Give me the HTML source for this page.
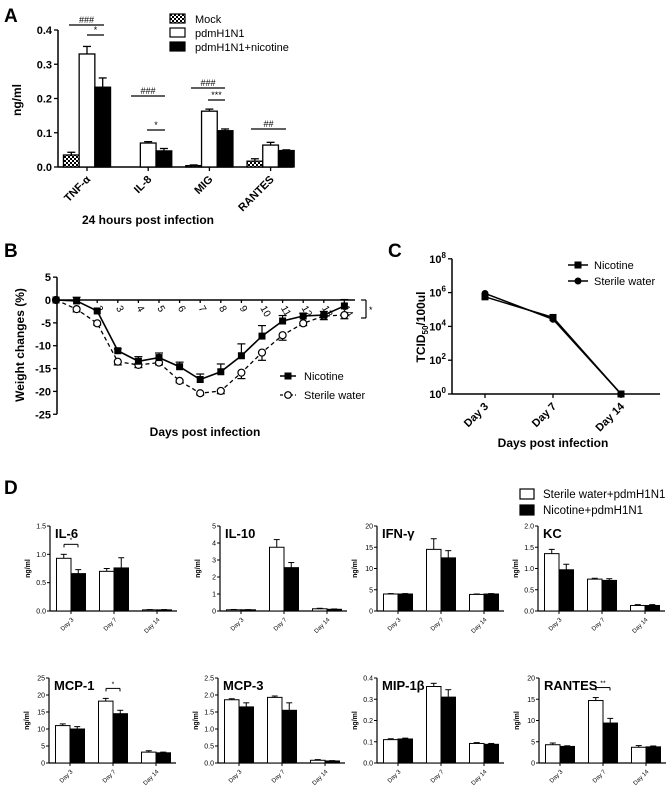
<!DOCTYPE html>
<html><head><meta charset="utf-8"><style>
html,body{margin:0;padding:0;background:#fff;}
svg{display:block;font-family:"Liberation Sans",Arial,sans-serif;}
</style></head><body>
<svg id="fig" width="672" height="788" viewBox="0 0 672 788" xmlns="http://www.w3.org/2000/svg">
<defs>
<pattern id="chk" width="4" height="4" patternUnits="userSpaceOnUse">
<rect width="4" height="4" fill="#fff"/><rect width="2" height="2" fill="#000"/><rect x="2" y="2" width="2" height="2" fill="#000"/>
</pattern>
</defs>
<g id="root"></g>
</svg>
<script>
// ---------- Panel A data ----------
const aCats = ["TNF-α","IL-8","MIG","RANTES"];
const aMock = [0.035,0,0.004,0.017];
const aMockErr = [0.008,0,0.002,0.007];
const aPdm = [0.33,0.07,0.163,0.064];
const aPdmErr = [0.022,0.004,0.006,0.008];
const aNic = [0.233,0.047,0.106,0.048];
const aNicErr = [0.027,0.007,0.005,0.002];
const aTicks = [0,0.1,0.2,0.3,0.4];
// ---------- Panel B data ----------
const bDays = [0,1,2,3,4,5,6,7,8,9,10,11,12,13,14];
const bNic = [0,-0.2,-2.4,-11.1,-13.4,-12.6,-14.6,-17.4,-15.7,-12.2,-7.9,-4.6,-3.5,-3.3,-1.3];
const bNicErr = [0,0.8,0.3,0.4,1,1,1,1.2,1.7,2.6,2.3,1.2,0.6,0.8,1.4];
const bSter = [0,-2,-5.1,-13.5,-14.2,-13.7,-17.7,-20.4,-19.9,-15.9,-11.5,-7.7,-5.1,-3.5,-3.3];
const bSterErr = [0,0.6,0.4,0.7,0.6,0.5,0.4,0.4,0.6,1.3,1.7,1.1,0.5,0.8,0.8];
const bTicks = [5,0,-5,-10,-15,-20,-25];
// ---------- Panel C data ----------
const cCats = ["Day 3","Day 7","Day 14"];
const cNic = [5.75,4.53,0];
const cSter = [5.95,4.42,0];
const cTicks = [0,2,4,6,8];
// ---------- Panel D data ----------
const dNames = ["IL-6","IL-10","IFN-γ","KC","MCP-1","MCP-3","MIP-1β","RANTES"];
const dMax = [1.5,5,20,2.0,25,2.5,0.4,20];
const dStep = [0.5,1,5,0.5,5,0.5,0.1,5];
const dTickDec = [1,0,0,1,0,1,1,0];
const dWater = [[0.93,0.70,0.02],[0.07,3.75,0.13],[4.0,14.5,3.9],[1.35,0.75,0.13],[11,18.2,3.2],[1.86,1.93,0.08],[0.11,0.36,0.092],[4.3,14.7,3.7]];
const dWaterErr = [[0.07,0.05,0.005],[0.02,0.45,0.03],[0.1,2.5,0.1],[0.1,0.02,0.02],[0.5,0.8,0.4],[0.03,0.04,0.02],[0.004,0.015,0.004],[0.4,0.7,0.4]];
const dNicD = [[0.66,0.76,0.02],[0.07,2.55,0.1],[4.0,12.5,4.0],[0.97,0.72,0.13],[10,14.5,3.0],[1.65,1.55,0.06],[0.113,0.31,0.088],[3.9,9.4,3.8]];
const dNicErr = [[0.07,0.18,0.005],[0.01,0.3,0.02],[0.1,1.7,0.1],[0.13,0.04,0.02],[0.7,1.0,0.2],[0.12,0.22,0.01],[0.004,0.035,0.004],[0.15,1.1,0.2]];
const dSig = [[0,"*"],null,null,null,[1,"*"],null,null,[1,"**"]];
const dCats = ["Day 3","Day 7","Day 14"];

const NS="http://www.w3.org/2000/svg";
const root=document.getElementById('root');
function el(tag,attrs,parent,text){const e=document.createElementNS(NS,tag);for(const k in attrs)e.setAttribute(k,attrs[k]);if(text!==undefined)e.textContent=text;(parent||root).appendChild(e);return e;}
function line(x1,y1,x2,y2,p,w,dash){const l=el('line',{x1,y1,x2,y2,stroke:'#000','stroke-width':w||1.3},p);if(dash)l.setAttribute('stroke-dasharray',dash);return l;}
function txt(x,y,s,size,p,opts){opts=opts||{};const t=el('text',{x,y,'font-size':size,'font-weight':opts.bold?'bold':'normal','text-anchor':opts.anchor||'start'},p,s);if(opts.rot!==undefined)t.setAttribute('transform','rotate('+opts.rot+' '+x+' '+y+')');return t;}
function grp(name){const g=el('g',{});return g;}

// ================= Panel A =================
(function(){
const g=grp('panel-a');
const x0=58,y0=167,yTop=30,xEnd=293;
const ys=v=>y0-(v/0.4)*(y0-yTop);
const gc=i=>87+i*61.2, bw=15.7;
let t=txt(4,22,'A',19,g,{bold:true});
line(x0,yTop,x0,y0,g,1.5);line(x0,y0,xEnd,y0,g,1.5);
aTicks.forEach(v=>{line(x0-4,ys(v),x0,ys(v),g);const tl=txt(x0-6,ys(v)+4,v.toFixed(1),11,g,{bold:true,anchor:'end'});});
t=txt(21,100,'ng/ml',12,g,{bold:true,anchor:'middle',rot:-90});
const series=[[aMock,aMockErr,'url(#chk)',-1],[aPdm,aPdmErr,'#fff',0],[aNic,aNicErr,'#000',1]];
aCats.forEach((c,i)=>{
 series.forEach(([vals,errs,fill,off],si)=>{
  const v=vals[i]; if(v<=0) return;
  const x=gc(i)+off*bw-bw/2;
  line(x+bw/2,ys(v),x+bw/2,ys(v+errs[i]),g,1.3);line(x+bw/2-4,ys(v+errs[i]),x+bw/2+4,ys(v+errs[i]),g,1.3);
  const r=el('rect',{x,y:ys(v),width:bw,height:y0-ys(v),fill,stroke:'#000','stroke-width':1.3},g);
  
  
 });
 line(gc(i),y0,gc(i),y0+4,g);
 const tl=txt(gc(i)+4,y0+13,c,11,g,{bold:true,anchor:'end',rot:-45});
 
});
const sig=[[69,104,25,'###'],[87,104,35,'*'],[131,165,96,'###'],[147,165,130,'*'],[191,225,88,'###'],[208,225,100,'***'],[251,286,129,'##']];
sig.forEach(([a,b,y,s])=>{line(a,y,b,y,g,1.2);const st=txt((a+b)/2,y-2,s,9,g,{anchor:'middle'});});
[['url(#chk)','Mock',14],['#fff','pdmH1N1',28],['#000','pdmH1N1+nicotine',42]].forEach(([f,s,y])=>{
 const r=el('rect',{x:170,y:y,width:15,height:9,fill:f,stroke:'#000','stroke-width':1.2},g);
 const lt=txt(195,y+9,s,11,g);
});
t=txt(148,224,'24 hours post infection',12,g,{bold:true,anchor:'middle'});
})();

// ================= Panel B =================
(function(){
const g=grp('panel-b');
const x0=57,dx=20.6,ys=v=>300-v*4.57;
const xs=d=>56+d*dx;
let t=txt(4,257,'B',19,g,{bold:true});
line(x0,ys(5),x0,ys(-25),g,1.5);line(x0,ys(0),355,ys(0),g,1.5);
bTicks.forEach(v=>{line(x0-4,ys(v),x0,ys(v),g);const tl=txt(x0-6,ys(v)+4,String(v),11,g,{bold:true,anchor:'end'});});
bDays.forEach(d=>{if(d<2)return;line(xs(d),ys(0),xs(d),ys(0)+3,g);const tl=txt(xs(d)-2,ys(0)+8,String(d),10,g,{rot:60});});
t=txt(24,345,'Weight changes (%)',12,g,{bold:true,anchor:'middle',rot:-90});
t=txt(205,436,'Days post infection',12,g,{bold:true,anchor:'middle'});
let pts=bDays.map((d,i)=>xs(d)+','+ys(bSter[i])).join(' ');
let pl=el('polyline',{points:pts,fill:'none',stroke:'#000','stroke-width':1.3,'stroke-dasharray':'4,3'},g);
bDays.forEach((d,i)=>{const y=ys(bSter[i]),ye=ys(bSter[i]-bSterErr[i]);line(xs(d),y,xs(d),ye,g,1.2);line(xs(d)-4,ye,xs(d)+4,ye,g,1.2);
 const c=el('circle',{cx:xs(d),cy:y,r:3.5,fill:d===0?'#000':'#fff',stroke:'#000','stroke-width':1.2},g);});
pts=bDays.map((d,i)=>xs(d)+','+ys(bNic[i])).join(' ');
pl=el('polyline',{points:pts,fill:'none',stroke:'#000','stroke-width':1.6},g);
bDays.forEach((d,i)=>{const y=ys(bNic[i]),ye=ys(bNic[i]+bNicErr[i]);line(xs(d),y,xs(d),ye,g,1.2);line(xs(d)-4,ye,xs(d)+4,ye,g,1.2);
 const r=el('rect',{x:xs(d)-3.5,y:y-3.5,width:7,height:7,fill:'#000'},g);});
line(361,300,366,300,g,1.2);line(366,300,366,318,g,1.2);line(361,318,366,318,g,1.2);txt(369,313,'*',9,g);
line(280,376,296,376,g,1.5);el('rect',{x:284.5,y:372.5,width:7,height:7,fill:'#000'},g);
let lt=txt(304,380,'Nicotine',11,g);
line(280,395,296,395,g,1.3,'3,2');el('circle',{cx:288,cy:395,r:3.3,fill:'#fff',stroke:'#000','stroke-width':1.2},g);
lt=txt(304,399,'Sterile water',11,g);
})();

// ================= Panel C =================
(function(){
const g=grp('panel-c');
const x0=452,y0=394,per=16.9,ys=v=>y0-v*per;
const xs=i=>[485,553,621][i];
let t=txt(388,257,'C',19,g,{bold:true});
line(x0,ys(8),x0,y0,g,1.5);line(x0,y0,660,y0,g,1.5);
cTicks.forEach(v=>{line(x0-4,ys(v),x0,ys(v),g);const tt=el('text',{x:x0-6,y:ys(v)+4,'font-size':11,'font-weight':'bold','text-anchor':'end'},g);
 tt.appendChild(document.createTextNode('10'));el('tspan',{dy:-5,'font-size':8},tt,String(v));});
cCats.forEach((c,i)=>{line(xs(i),y0,xs(i),y0+4,g);const tl=txt(xs(i)+4,y0+13,c,11,g,{bold:true,anchor:'end',rot:-45});});
const tt=el('text',{x:425,y:327,'font-size':12,'font-weight':'bold','text-anchor':'middle',transform:'rotate(-90 425 327)'},g);

tt.appendChild(document.createTextNode('TCID'));el('tspan',{dy:3,'font-size':8},tt,'50');el('tspan',{dy:-3},tt,'/100ul');
t=txt(553,447,'Days post infection',12,g,{bold:true,anchor:'middle'});
let pl=el('polyline',{points:cCats.map((c,i)=>xs(i)+','+ys(cSter[i])).join(' '),fill:'none',stroke:'#000','stroke-width':1.5},g);
pl=el('polyline',{points:cCats.map((c,i)=>xs(i)+','+ys(cNic[i])).join(' '),fill:'none',stroke:'#000','stroke-width':1.5},g);
cCats.forEach((c,i)=>{const ci=el('circle',{cx:xs(i),cy:ys(cSter[i]),r:3.5,fill:'#000'},g);
 const r=el('rect',{x:xs(i)-3.5,y:ys(cNic[i])-3.5,width:7,height:7,fill:'#000'},g);});
line(568,265,588,265,g,1.5);el('rect',{x:574.5,y:261.5,width:7,height:7,fill:'#000'},g);
let lt=txt(594,269,'Nicotine',11,g);
line(568,281,588,281,g,1.5);el('circle',{cx:578,cy:281,r:3.5,fill:'#000'},g);
lt=txt(594,285,'Sterile water',11,g);
})();

// ================= Panel D =================
(function(){
const g=grp('panel-d');
let t=txt(4,494,'D',19,g,{bold:true});
const axX=[50,220,377,538,49,218,377,539];
const rows=[[611,526],[763,678]];
dNames.forEach((name,k)=>{
 const sg=el('g',{},g);
 const x0=axX[k],[y0,yT]=rows[k<4?0:1];
 const ys=v=>y0-v/dMax[k]*(y0-yT);
 line(x0,yT,x0,y0,sg,1.2);line(x0,y0,x0+127,y0,sg,1.2);
 for(let v=0;v<=dMax[k]+1e-9;v+=dStep[k]){line(x0-3,ys(v),x0,ys(v),sg,1);const tl=txt(x0-4,ys(v)+2.5,v.toFixed(dTickDec[k]),7,sg,{anchor:'end'});}
 const tt=txt(x0+5,yT+12,name,13,sg,{bold:true});
 const yl=txt(x0-20,(y0+yT)/2,'ng/ml',7,sg,{bold:true,anchor:'middle',rot:-90});
 const bw=14.5;
 dCats.forEach((c,i)=>{
  const cx=x0+21+43*i;
  [[dWater,dWaterErr,'#fff',-1],[dNicD,dNicErr,'#000',0]].forEach(([vals,errs,fill,off],si)=>{
   const v=vals[k][i],e=errs[k][i],bx=cx+off*bw,mx=bx+bw/2;
   line(mx,ys(v),mx,ys(v+e),sg,1);line(mx-3,ys(v+e),mx+3,ys(v+e),sg,1);
   const r=el('rect',{x:bx,y:ys(v),width:bw,height:Math.max(0.5,y0-ys(v)),fill,stroke:'#000','stroke-width':1},sg);
   
  });
  line(cx,y0,cx,y0+3,sg,1);
  const tl=txt(cx+3,y0+9,c,6,sg,{anchor:'end',rot:-45});
 });
 if(dSig[k]){const [i,s]=dSig[k];const cx=x0+21+43*i;
  const top=ys(Math.max(dWater[k][i]+dWaterErr[k][i],dNicD[k][i]+dNicErr[k][i]))-10;
  line(cx-7,top,cx+7,top,sg,1);line(cx-7,top,cx-7,top+3,sg,1);line(cx+7,top,cx+7,top+3,sg,1);
  const st=txt(cx,top-2,s,7,sg,{anchor:'middle'});}
});
let r=el('rect',{x:520,y:489,width:14,height:10,fill:'#fff',stroke:'#000','stroke-width':1.2},g);
let lt=txt(543,498,'Sterile water+pdmH1N1',11.5,g);
r=el('rect',{x:520,y:505,width:14,height:10,fill:'#000',stroke:'#000','stroke-width':1.2},g);
lt=txt(543,514,'Nicotine+pdmH1N1',11.5,g);
})();
</script>
</body></html>
